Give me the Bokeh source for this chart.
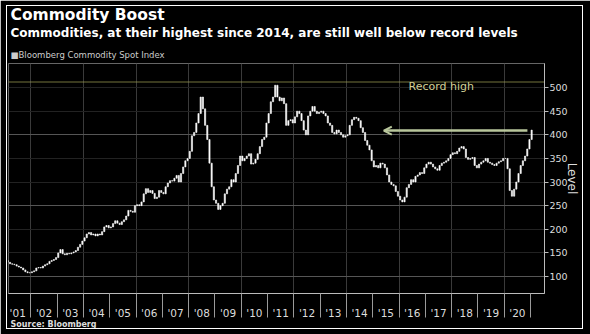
from bokeh.plotting import figure
from bokeh.models import (Range1d, FixedTicker, Span, Arrow, OpenHead, Label,
                          ColumnDataSource, Grid, Title, InlineStyleSheet)
from bokeh.embed import file_html
from bokeh.resources import INLINE

# ---------------- data ----------------
years = list(range(2001, 2021))
year_labels = ["'01", "'02", "'03", "'04", "'05", "'06", "'07", "'08", "'09", "'10",
               "'11", "'12", "'13", "'14", "'15", "'16", "'17", "'18", "'19", "'20"]
first_open = 134
closes_2001 = [132, 130, 127, 126, 125, 122, 120, 118, 114, 110, 108, 108]
closes_2002 = [110, 112, 118, 119, 118, 122, 125, 127, 132, 134, 136, 140]
closes_2003 = [150, 157, 148, 146, 149, 148, 150, 152, 155, 162, 168, 175]
closes_2004 = [182, 190, 193, 188, 190, 186, 190, 188, 195, 205, 208, 203]
closes_2005 = [205, 212, 218, 213, 210, 216, 220, 228, 240, 238, 236, 250]
closes_2006 = [252, 250, 258, 275, 286, 278, 282, 276, 265, 268, 282, 278]
closes_2007 = [275, 290, 298, 303, 302, 308, 314, 300, 318, 332, 345, 350]
closes_2008 = [365, 398, 405, 425, 445, 480, 455, 420, 390, 340, 290, 262]
closes_2009 = [255, 242, 250, 255, 275, 285, 290, 305, 300, 318, 335, 355]
closes_2010 = [345, 350, 355, 360, 338, 340, 348, 360, 375, 390, 395, 425]
closes_2011 = [445, 470, 480, 505, 480, 472, 478, 466, 420, 430, 432, 425]
closes_2012 = [438, 450, 445, 430, 410, 400, 440, 450, 460, 450, 445, 448]
closes_2013 = [450, 445, 440, 425, 420, 405, 402, 410, 405, 400, 395, 398]
closes_2014 = [400, 420, 432, 437, 435, 430, 415, 405, 388, 378, 368, 345]
closes_2015 = [332, 335, 330, 340, 338, 330, 315, 300, 295, 292, 280, 270]
closes_2016 = [262, 258, 268, 288, 295, 305, 300, 312, 315, 320, 318, 330]
closes_2017 = [338, 342, 338, 332, 328, 325, 335, 340, 342, 345, 350, 358]
closes_2018 = [362, 360, 365, 372, 375, 370, 352, 348, 350, 352, 335, 330]
closes_2019 = [338, 342, 345, 350, 342, 340, 337, 335, 340, 343, 345, 350]
closes_2020 = [350, 328, 282, 270, 285, 300, 318, 335, 345, 355, 370, 390]
closes_2021 = [410]
record_high = 512
current_level = 409
y_ticks = [100, 150, 200, 250, 300, 350, 400, 450, 500]

all_closes = (closes_2001 + closes_2002 + closes_2003 + closes_2004 + closes_2005 +
              closes_2006 + closes_2007 + closes_2008 + closes_2009 + closes_2010 +
              closes_2011 + closes_2012 + closes_2013 + closes_2014 + closes_2015 +
              closes_2016 + closes_2017 + closes_2018 + closes_2019 + closes_2020 +
              closes_2021)
n = len(all_closes)
xs = [2001 + (i + 0.5) / 12 for i in range(n)]
opens = [first_open] + all_closes[:-1]
tops = [max(o, c) for o, c in zip(opens, all_closes)]
bots = [min(o, c) for o, c in zip(opens, all_closes)]
src = ColumnDataSource(dict(x=xs, top=tops, bottom=bots))

# ---------------- figure ----------------
p = figure(width=590, height=334, output_backend="svg", toolbar_location=None,
           x_range=Range1d(2001.15, 2021.53), y_range=Range1d(64, 551),
           y_axis_location="right", min_border_left=8, min_border_right=46,
           min_border_top=63, min_border_bottom=41)
p.background_fill_color = "black"
p.border_fill_color = "black"
p.outline_line_color = "#666666"
p.stylesheets = [InlineStyleSheet(css=(
    ":host { position: relative; }\n"
    ":host::after { content: ''; position: absolute; left: 6px; top: 5px; "
    "width: 577px; height: 324px; border: 1.5px solid #ffffff; box-sizing: border-box; "
    "pointer-events: none; z-index: 1000; }"))]

FONT = "DejaVu Sans"

# grids
p.xgrid.ticker = FixedTicker(ticks=[2002, 2004, 2006, 2008, 2010, 2012, 2014, 2016, 2018, 2020])
p.xgrid.grid_line_color = "#3a3a3a"
p.ygrid.ticker = FixedTicker(ticks=y_ticks)
p.ygrid.grid_line_color = "#222222"
g2 = Grid(dimension=1, ticker=FixedTicker(ticks=[100, 250, 400]), grid_line_color="#555555")
p.add_layout(g2)

# x axis
xa = p.xaxis[0]
xa.ticker = FixedTicker(ticks=[y + 0.5 for y in years], minor_ticks=[y + 1 for y in years])
xa.major_label_overrides = {y + 0.5: lab for y, lab in zip(years, year_labels)}
xa.major_tick_out = 24
xa.major_tick_in = 0
xa.major_tick_line_alpha = 0
xa.minor_tick_out = 24
xa.minor_tick_in = 0
xa.minor_tick_line_color = "#9a9a9a"
xa.axis_line_color = "#bbbbbb"
xa.major_label_standoff = -11
xa.major_label_text_color = "#dddddd"
xa.major_label_text_font = FONT
xa.major_label_text_font_size = "10.5px"

# y axis
ya = p.yaxis[0]
ya.ticker = FixedTicker(ticks=y_ticks)
ya.major_tick_out = 4
ya.major_tick_in = 0
ya.minor_tick_out = 0
ya.axis_line_color = "#bbbbbb"
ya.major_tick_line_color = "#bbbbbb"
ya.major_label_text_color = "#dddddd"
ya.major_label_text_font = FONT
ya.major_label_text_font_size = "9.5px"
ya.major_label_standoff = 1
ya.axis_label = "Level"
ya.axis_label_text_color = "#dddddd"
ya.axis_label_text_font = FONT
ya.axis_label_text_font_size = "12px"
ya.axis_label_text_font_style = "normal"
ya.axis_label_standoff = -6

# candles
p.vbar(x="x", width=0.045, top="top", bottom="bottom", source=src,
       fill_color="white", line_color="white", line_width=0.6)

# record high line, arrow, label
p.add_layout(Span(location=record_high, dimension="width", line_color="#9a9a50",
                  line_dash="1 1", line_width=1.5))
p.add_layout(Arrow(end=OpenHead(size=8, line_color="#b9c79c", line_width=2),
                   x_start=2020.88, y_start=current_level, x_end=2015.42, y_end=current_level,
                   line_color="#b9c79c", line_width=2.5))
p.add_layout(Label(x=2016.36, y=488, text="Record high", text_color="#d2cf96",
                   text_font=FONT, text_font_size="11px"))

# titles (first added = closest to the plot)
p.add_layout(Title(text="\u25a0Bloomberg Commodity Spot Index", align="left", offset=2,
                   standoff=8, text_color="#cccccc", text_font=FONT,
                   text_font_size="8.5px", text_font_style="normal"), "above")
p.add_layout(Title(text="Commodities, at their highest since 2014, are still well below record levels",
                   align="left", offset=2, standoff=7, text_color="white", text_font=FONT,
                   text_font_size="12px", text_font_style="bold"), "above")
p.add_layout(Title(text="Commodity Boost", align="left", offset=2, standoff=-6,
                   text_color="white", text_font=FONT, text_font_size="15.5px",
                   text_font_style="bold"), "above")
p.add_layout(Title(text="Source: Bloomberg", align="left", offset=2, standoff=-7,
                   text_color="#dddddd", text_font=FONT, text_font_size="8px",
                   text_font_style="bold"), "below")

open("out.html", "w").write(file_html(p, INLINE))
